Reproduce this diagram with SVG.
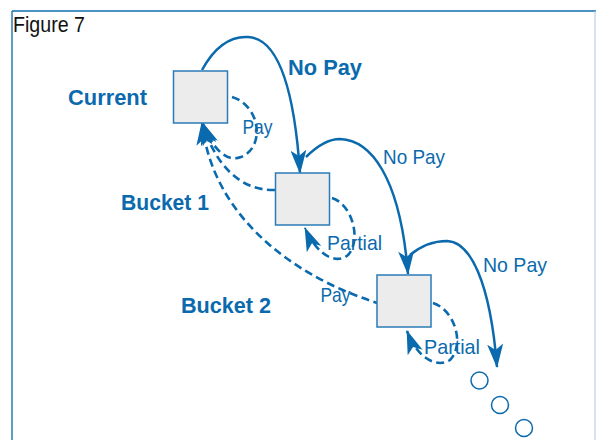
<svg xmlns="http://www.w3.org/2000/svg" width="596" height="440" viewBox="0 0 596 440">
  <style>
    .box { fill: #ececec; stroke: #2b7bb6; stroke-width: 1.5; }
    .solid { fill: none; stroke: #0a6aad; stroke-width: 2.5; marker-end: url(#head); }
    .dash { fill: none; stroke: #0a6aad; stroke-width: 2.6; stroke-dasharray: 8 4.5; marker-end: url(#head); }
    .lbl { font-family: "Liberation Sans", Arial, sans-serif; fill: #0a6aad; }
    .bold { font-weight: bold; font-size: 22px; }
    .reg { font-size: 21px; }
    .dot { fill: #ffffff; stroke: #0a6aad; stroke-width: 1.5; }
  </style>
  <defs>
    <marker id="head" viewBox="0 0 24 16" refX="23" refY="8" markerWidth="24" markerHeight="16" markerUnits="userSpaceOnUse" orient="auto">
      <path d="M0,0 L24,8 L0,16 L6,8 z" fill="#0a6aad"/>
    </marker>
  </defs>

  <rect width="596" height="440" fill="#ffffff"/>

  <!-- frame -->
  <g id="frame">
    <line x1="12" y1="11" x2="596" y2="11" stroke="#4a92c4" stroke-width="2"/>
    <line x1="12" y1="11" x2="12" y2="440" stroke="#2b7bb6" stroke-width="1.5"/>
    <line x1="595" y1="11" x2="595" y2="440" stroke="#a9c8e0" stroke-width="1"/>
  </g>

  <text x="13" y="31.5" font-family="Liberation Sans, Arial, sans-serif" font-size="22" fill="#111111" textLength="72" lengthAdjust="spacingAndGlyphs">Figure 7</text>

  <!-- connectors -->
  <g id="connectors">
    <!-- missed payments move down one bucket -->
    <path class="solid" d="M202,70 C214,48 230,36 248,37 C272,38 293,70 300,173"/>
    <path class="solid" d="M306,157 C318,145 328,139 340,139 C370,140 400,175 408,274"/>
    <path class="solid" d="M410,255 C422,245 434,241 447,241 C470,242 490,280 497,367"/>
    <!-- payments return to current -->
    <path class="dash" d="M232,97 C260,105 266,147 241,157 C226,163 212,148 202,122"/>
    <path class="dash" d="M275,190 C238,191 214,162 202,122"/>
    <path class="dash" d="M381,304 C300,280 212,220 202,122"/>
    <!-- partial payments stay in bucket -->
    <path class="dash" d="M332,198 C352,204 362,240 348,255 C338,264 318,258 305,228"/>
    <path class="dash" d="M433,303 C455,310 465,345 450,360 C438,368 418,360 407,331"/>
  </g>

  <!-- nodes -->
  <g id="current">
    <rect class="box" x="173.5" y="71" width="54" height="52"/>
    <text class="lbl bold" x="68" y="104.5" textLength="79" lengthAdjust="spacingAndGlyphs">Current</text>
  </g>
  <g id="bucket1">
    <rect class="box" x="275.5" y="173" width="54" height="52"/>
    <text class="lbl bold" x="121" y="210" textLength="88" lengthAdjust="spacingAndGlyphs">Bucket 1</text>
  </g>
  <g id="bucket2">
    <rect class="box" x="377" y="275" width="54" height="52"/>
    <text class="lbl bold" x="181" y="313" textLength="90" lengthAdjust="spacingAndGlyphs">Bucket 2</text>
  </g>
  <g id="more">
    <circle class="dot" cx="479.5" cy="380.5" r="8.5"/>
    <circle class="dot" cx="500" cy="405" r="8.5"/>
    <circle class="dot" cx="524" cy="428" r="8.5"/>
  </g>

  <!-- connector labels -->
  <g id="labels">
    <text class="lbl bold" x="288" y="75" textLength="74" lengthAdjust="spacingAndGlyphs">No Pay</text>
    <text class="lbl reg" x="242.5" y="133.5" textLength="30" lengthAdjust="spacingAndGlyphs">Pay</text>
    <text class="lbl reg" x="383" y="163.5" textLength="62" lengthAdjust="spacingAndGlyphs">No Pay</text>
    <text class="lbl reg" x="327" y="250" textLength="55" lengthAdjust="spacingAndGlyphs">Partial</text>
    <text class="lbl reg" x="483" y="272" textLength="64" lengthAdjust="spacingAndGlyphs">No Pay</text>
    <text class="lbl reg" x="320.5" y="301.5" textLength="30" lengthAdjust="spacingAndGlyphs">Pay</text>
    <text class="lbl reg" x="424" y="354" textLength="56" lengthAdjust="spacingAndGlyphs">Partial</text>
  </g>
</svg>
